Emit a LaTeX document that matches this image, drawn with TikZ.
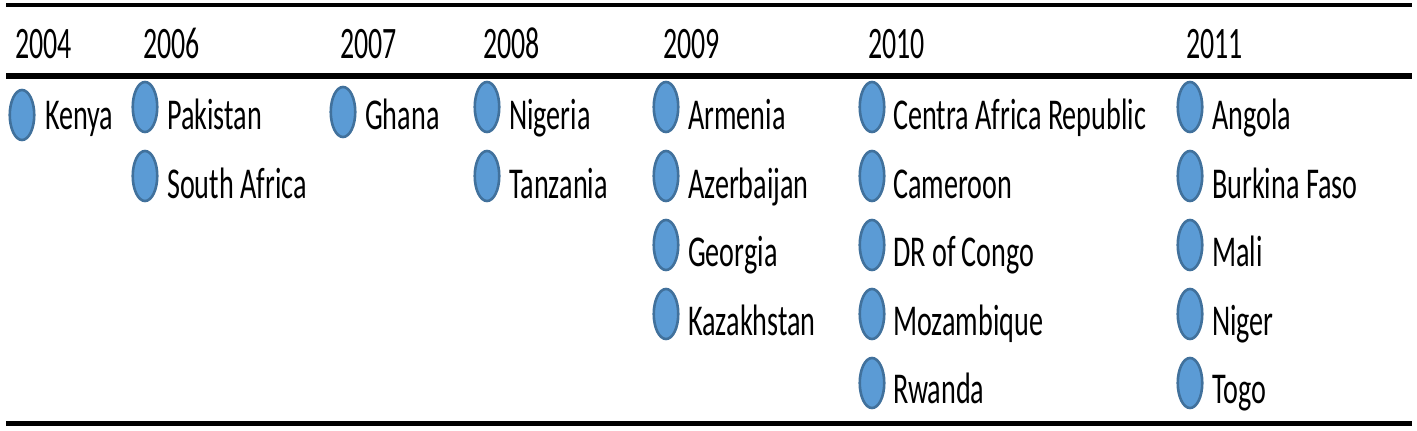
\documentclass[tikz,border=0pt]{standalone}
\usepackage{fontspec}
\setmainfont{Carlito}
\usetikzlibrary{shapes.geometric}
\definecolor{mfill}{HTML}{5B9BD5}
\definecolor{mline}{HTML}{41719C}
\newcommand{\sq}[1]{\scalebox{0.64}[1]{#1}}
\newcommand{\sqy}[1]{\scalebox{0.62}[1]{#1}}
\tikzset{
  yearlbl/.style={anchor=base west,inner sep=0pt,font=\fontsize{45}{50}\selectfont},
  country/.style={anchor=base west,inner sep=0pt,font=\fontsize{44}{50}\selectfont},
  marker/.style={ellipse,draw=mline,fill=mfill,line width=2.6pt,minimum width=24.5pt,minimum height=50pt,inner sep=0pt},
  rule/.style={line width=#1,black}
}
\begin{document}
\begin{tikzpicture}[x=1pt,y=-1pt]
\useasboundingbox (0,0) rectangle (1417,431);
% rules
\coordinate (t1) at (6,5); \coordinate (t2) at (1412,5);
\coordinate (m1) at (6,75.5); \coordinate (m2) at (1412,75.5);
\coordinate (b1) at (6,423); \coordinate (b2) at (1412,423);
\draw[rule=4pt] (t1) -- (t2);
\draw[rule=6pt] (m1) -- (m2);
\draw[rule=5pt] (b1) -- (b2);
% years
\node[yearlbl] (y2004) at (15,58) {\sqy{2004}};
\node[yearlbl] (y2006) at (143,58) {\sqy{2006}};
\node[yearlbl] (y2007) at (340,58) {\sqy{2007}};
\node[yearlbl] (y2008) at (483,58) {\sqy{2008}};
\node[yearlbl] (y2009) at (663,58) {\sqy{2009}};
\node[yearlbl] (y2010) at (868,58) {\sqy{2010}};
\node[yearlbl] (y2011) at (1186,58) {\sqy{2011}};
% 2004
\node[marker] (mk1) at (22,115) {};
\node[country] (c1) at (45,129) {\sq{Kenya}};
% 2006
\node[marker] (mk2) at (145,107) {};
\node[country] (c2) at (167,129) {\sq{Pakistan}};
\node[marker] (mk3) at (145,176) {};
\node[country] (c3) at (167,198) {\sq{South Africa}};
% 2007
\node[marker] (mk4) at (343,112) {};
\node[country] (c4) at (365,129) {\sq{Ghana}};
% 2008
\node[marker] (mk5) at (487,107) {};
\node[country] (c5) at (509,129) {\sq{Nigeria}};
\node[marker] (mk6) at (487,176) {};
\node[country] (c6) at (509,198) {\sq{Tanzania}};
% 2009
\node[marker] (mk7) at (666,107) {};
\node[country] (c7) at (688,129) {\sq{Armenia}};
\node[marker] (mk8) at (666,176) {};
\node[country] (c8) at (688,198) {\sq{Azerbaijan}};
\node[marker] (mk9) at (666,245) {};
\node[country] (c9) at (688,266) {\sq{Georgia}};
\node[marker] (mk10) at (666,314) {};
\node[country] (c10) at (688,335) {\sq{Kazakhstan}};
% 2010
\node[marker] (mk11) at (872,107) {};
\node[country] (c11) at (893,129) {\sq{Centra Africa Republic}};
\node[marker] (mk12) at (872,176) {};
\node[country] (c12) at (893,198) {\sq{Cameroon}};
\node[marker] (mk13) at (872,245) {};
\node[country] (c13) at (893,266) {\sq{DR of Congo}};
\node[marker] (mk14) at (872,314) {};
\node[country] (c14) at (893,335) {\sq{Mozambique}};
\node[marker] (mk15) at (872,383) {};
\node[country] (c15) at (893,403) {\sq{Rwanda}};
% 2011
\node[marker] (mk16) at (1190,107) {};
\node[country] (c16) at (1212,129) {\sq{Angola}};
\node[marker] (mk17) at (1190,176) {};
\node[country] (c17) at (1212,198) {\sq{Burkina Faso}};
\node[marker] (mk18) at (1190,245) {};
\node[country] (c18) at (1212,266) {\sq{Mali}};
\node[marker] (mk19) at (1190,314) {};
\node[country] (c19) at (1212,335) {\sq{Niger}};
\node[marker] (mk20) at (1190,383) {};
\node[country] (c20) at (1212,403) {\sq{Togo}};
\end{tikzpicture}
\end{document}
